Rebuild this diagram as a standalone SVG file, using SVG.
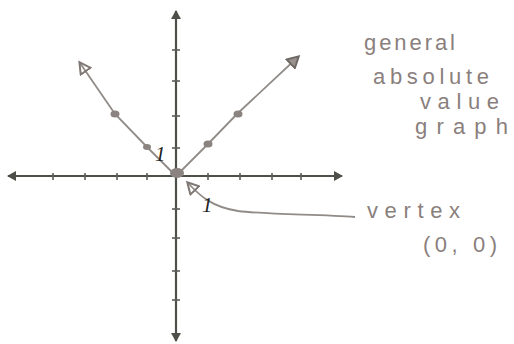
<svg xmlns="http://www.w3.org/2000/svg" width="514" height="344" viewBox="0 0 514 344">
<defs>
<style>
.axis{stroke:#4d5048;stroke-width:2.2;fill:none}
.tick{stroke:#5a5c55;stroke-width:1.6}
.graph{stroke:#918b87;stroke-width:1.8;fill:none}
.dot{fill:#8a837f}
.hand{font-family:"Liberation Sans",Arial,sans-serif;font-size:22px;fill:#8a7f7d}
.one{font-family:"Liberation Serif","Times New Roman",serif;font-style:italic;font-size:21px;fill:#222}
</style>
<marker id="ah" markerWidth="10" markerHeight="10" refX="8" refY="5" orient="auto" markerUnits="userSpaceOnUse">
<path d="M0,0 L9,5 L0,10 Z" fill="#4d5048"/>
</marker>
<marker id="open" markerWidth="14" markerHeight="14" refX="11" refY="7" orient="auto" markerUnits="userSpaceOnUse">
<path d="M1,1 L12,7 L1,13 Z" fill="none" stroke="#7f7874" stroke-width="2"/>
</marker>
<marker id="solid" markerWidth="14" markerHeight="14" refX="11" refY="7" orient="auto" markerUnits="userSpaceOnUse">
<path d="M1,1 L12,7 L1,13 Z" fill="#9a928e" stroke="#6f6965" stroke-width="2"/>
</marker>
</defs>
<g id="axes">
<line class="axis" x1="176" y1="176" x2="176" y2="11" marker-end="url(#ah)"/>
<line class="axis" x1="176" y1="176" x2="176" y2="341" marker-end="url(#ah)"/>
<line class="axis" x1="176" y1="176" x2="8" y2="176" marker-end="url(#ah)"/>
<line class="axis" x1="176" y1="176" x2="342" y2="176" marker-end="url(#ah)"/>
<g class="tick">
<line x1="53" y1="173" x2="53" y2="180"/>
<line x1="85" y1="173" x2="85" y2="180"/>
<line x1="117" y1="173" x2="117" y2="180"/>
<line x1="147" y1="173" x2="147" y2="180"/>
<line x1="208" y1="173" x2="208" y2="180"/>
<line x1="240" y1="173" x2="240" y2="180"/>
<line x1="272" y1="173" x2="272" y2="180"/>
<line x1="301" y1="173" x2="301" y2="180"/>
<line x1="172" y1="50" x2="180" y2="50"/>
<line x1="172" y1="81" x2="180" y2="81"/>
<line x1="172" y1="116" x2="180" y2="116"/>
<line x1="172" y1="148" x2="180" y2="148"/>
<line x1="172" y1="209" x2="180" y2="209"/>
<line x1="172" y1="238" x2="180" y2="238"/>
<line x1="172" y1="271" x2="180" y2="271"/>
<line x1="172" y1="300" x2="180" y2="300"/>
</g>
</g>
<g id="connectors">
<polyline class="graph" points="176,176 147,147 115,114 80,63" marker-end="url(#open)"/>
<polyline class="graph" points="176,176 208,144 237,114 298,57" marker-end="url(#solid)"/>
<path class="graph" d="M355,217 C320,214 270,215 238,211 C212,207 200,196 188,183" marker-end="url(#open)"/>
</g>
<g id="points">
<ellipse class="dot" cx="115" cy="114" rx="4.5" ry="3.5"/>
<ellipse class="dot" cx="147" cy="147" rx="4" ry="3"/>
<ellipse class="dot" cx="208" cy="144" rx="4.5" ry="3.5"/>
<ellipse class="dot" cx="238" cy="114" rx="4.5" ry="3.5"/>
<ellipse class="dot" cx="177" cy="173" rx="7" ry="5"/>
</g>
<g id="labels">
<text class="one" x="155" y="161">1</text>
<text class="one" x="202" y="212">1</text>
</g>
<g id="title">
<text class="hand" x="364" y="50" textLength="91" lengthAdjust="spacing">general</text>
<text class="hand" x="373" y="84" textLength="116" lengthAdjust="spacing">absolute</text>
<text class="hand" x="420" y="109" textLength="79" lengthAdjust="spacing">value</text>
<text class="hand" x="415" y="134" textLength="93" lengthAdjust="spacing">graph</text>
</g>
<g id="vertex-note">
<text class="hand" x="367" y="218" textLength="93" lengthAdjust="spacing">vertex</text>
<text class="hand" x="423" y="252" textLength="74" lengthAdjust="spacing">(0, 0)</text>
</g>
</svg>
